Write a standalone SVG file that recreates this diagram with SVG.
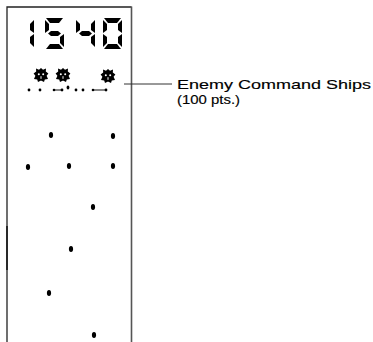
<svg xmlns="http://www.w3.org/2000/svg" xmlns:xlink="http://www.w3.org/1999/xlink" width="373" height="342" viewBox="0 0 373 342">
  <style>
    .seg { fill: #000; }
    .frame { fill: none; stroke: #222; stroke-width: 1.3; }
    .frame-r { fill: none; stroke: #555; stroke-width: 1.6; }
    .leader { stroke: #333; stroke-width: 1; fill: none; }
    .shot { fill: #000; }
    .trail { stroke: #111; stroke-width: 1; }
    .bomb { fill: #000; }
    .label { font-family: "Liberation Sans", "DejaVu Sans", sans-serif; font-size: 13.4px; fill: #000; stroke: #000; stroke-width: 0.15; }
  </style>
  <defs>
    <!-- seven-segment pieces, drawn for a 19x31 cell -->
    <polygon id="seg-a" class="seg" points="1,0 18,0 14,5 5,5"/>
    <polygon id="seg-b" class="seg" points="19,2 15,6 15,12 19,15"/>
    <polygon id="seg-c" class="seg" points="19,16 15,19 15,25 19,29"/>
    <polygon id="seg-d" class="seg" points="5,26 14,26 18,31 1,31"/>
    <polygon id="seg-e" class="seg" points="0,16 4,19 4,25 0,29"/>
    <polygon id="seg-f" class="seg" points="0,2 4,6 4,12 0,15"/>
    <polygon id="seg-g" class="seg" points="3,15.5 6,13 13,13 16,15.5 13,18 6,18"/>
    <!-- command ship sprite, centred on the origin -->
    <g id="ship">
      <polygon fill="#000" points="0,-7 2,-5.2 5,-6.4 4.8,-3.4 7.4,-1.6 5.6,0.8 7,4 3.8,4.4 3,7 0,5.6 -3,7 -3.8,4.4 -7,4 -5.6,0.8 -7.4,-1.6 -4.8,-3.4 -5,-6.4 -2,-5.2"/>
      <circle cx="0" cy="0" r="5.2" fill="#000"/>
      <circle cx="-2.2" cy="-0.8" r="1" fill="#fff"/>
      <circle cx="2.2" cy="-0.8" r="1" fill="#fff"/>
      <rect x="-0.5" y="1.2" width="1" height="2.6" fill="#fff"/>
    </g>
  </defs>

  <!-- playfield frame -->
  <g id="frame">
    <path class="frame" d="M7,342 V7 H131.5"/>
    <path class="frame-r" d="M131.5,6.5 V342"/>
    <line x1="7" y1="226" x2="7" y2="270" stroke="#222" stroke-width="1.8"/>
  </g>

  <!-- score readout 1540 -->
  <g id="score">
    <use xlink:href="#seg-b" x="15" y="18"/>
    <use xlink:href="#seg-c" x="15" y="18"/>

    <use xlink:href="#seg-a" x="45" y="18"/>
    <use xlink:href="#seg-f" x="45" y="18"/>
    <use xlink:href="#seg-g" x="45" y="18"/>
    <use xlink:href="#seg-c" x="45" y="18"/>
    <use xlink:href="#seg-d" x="45" y="18"/>

    <use xlink:href="#seg-f" x="76" y="18"/>
    <use xlink:href="#seg-g" x="76" y="18"/>
    <use xlink:href="#seg-b" x="76" y="18"/>
    <use xlink:href="#seg-c" x="76" y="18"/>

    <use xlink:href="#seg-a" x="103" y="18"/>
    <use xlink:href="#seg-b" x="103" y="18"/>
    <use xlink:href="#seg-c" x="103" y="18"/>
    <use xlink:href="#seg-d" x="103" y="18"/>
    <use xlink:href="#seg-e" x="103" y="18"/>
    <use xlink:href="#seg-f" x="103" y="18"/>
  </g>

  <!-- enemy command ships -->
  <g id="ship-1"><use xlink:href="#ship" x="41" y="75"/></g>
  <g id="ship-2"><use xlink:href="#ship" x="63" y="75"/></g>
  <g id="ship-3"><use xlink:href="#ship" x="108" y="76"/></g>

  <!-- shots below the ships -->
  <g id="shots">
    <circle class="shot" cx="29" cy="90" r="1.4"/>
    <circle class="shot" cx="40" cy="90" r="1.4"/>
    <line class="trail" x1="54" y1="90" x2="62" y2="90"/>
    <circle class="shot" cx="54" cy="90" r="1.3"/>
    <circle class="shot" cx="62" cy="90" r="1.4"/>
    <ellipse class="shot" cx="68" cy="87.5" rx="1.4" ry="2"/>
    <circle class="shot" cx="76" cy="90" r="1.4"/>
    <circle class="shot" cx="83" cy="90" r="1.4"/>
    <line class="trail" x1="93" y1="90" x2="106" y2="90"/>
    <circle class="shot" cx="93" cy="90" r="1.3"/>
    <circle class="shot" cx="106" cy="90" r="1.4"/>
  </g>

  <!-- falling bombs -->
  <g id="bombs">
    <ellipse class="bomb" cx="51" cy="135" rx="2.1" ry="3"/>
    <ellipse class="bomb" cx="113" cy="136" rx="2.1" ry="3"/>
    <ellipse class="bomb" cx="28" cy="167" rx="2.1" ry="3"/>
    <ellipse class="bomb" cx="69" cy="166" rx="2.1" ry="3"/>
    <ellipse class="bomb" cx="113" cy="166" rx="2.1" ry="3"/>
    <ellipse class="bomb" cx="93" cy="207" rx="2.1" ry="3"/>
    <ellipse class="bomb" cx="71" cy="249" rx="2.1" ry="3"/>
    <ellipse class="bomb" cx="49" cy="293" rx="2.1" ry="3"/>
    <ellipse class="bomb" cx="94" cy="335" rx="2.1" ry="3"/>
  </g>

  <!-- callout -->
  <g id="connectors">
    <line class="leader" x1="124" y1="84" x2="172" y2="84"/>
  </g>
  <g id="label-command-ships">
    <text class="label" x="177" y="89" textLength="194" lengthAdjust="spacingAndGlyphs">Enemy Command Ships</text>
    <text class="label" x="177" y="104.2" textLength="63" lengthAdjust="spacingAndGlyphs">(100 pts.)</text>
  </g>
</svg>
